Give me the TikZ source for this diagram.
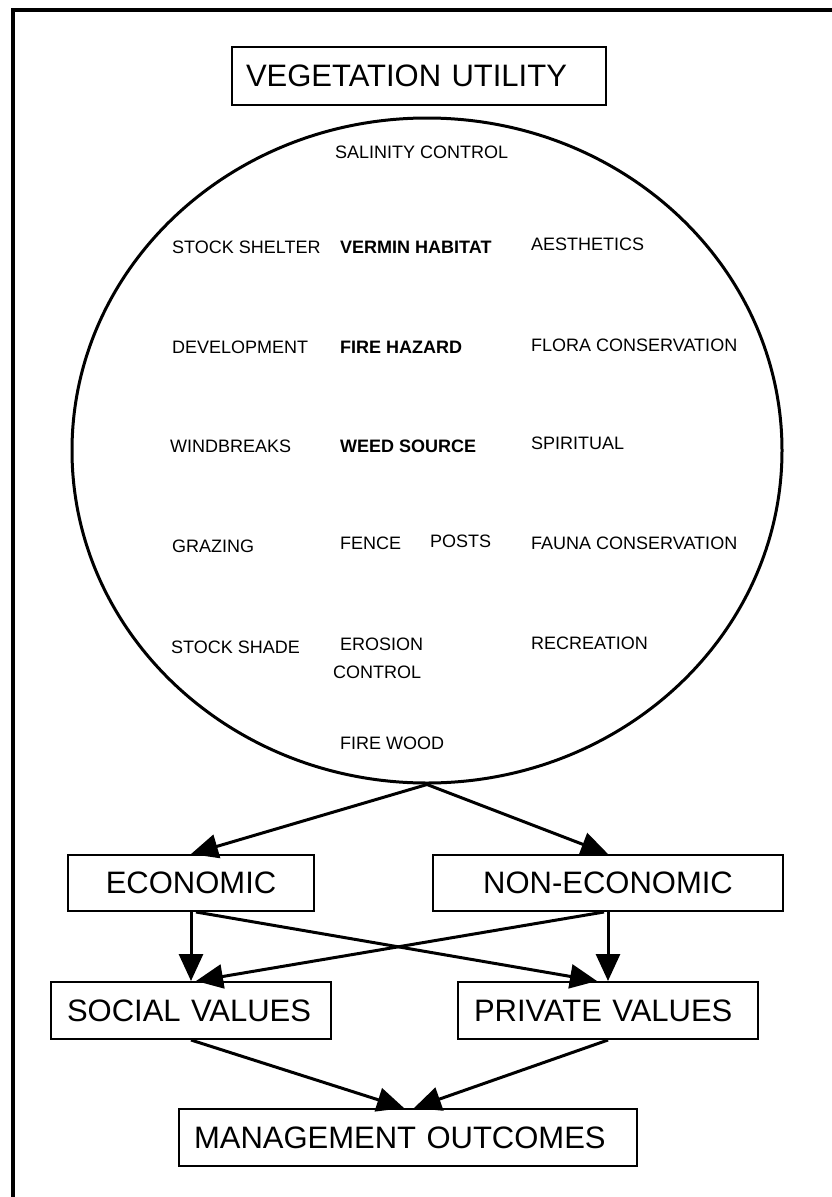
\documentclass[tikz,border=0pt]{standalone}
\usepackage{fontspec}
\setmainfont{Liberation Sans}
\usetikzlibrary{shapes.geometric,arrows.meta}
\tikzset{
  lbl/.style={anchor=base west, inner sep=0pt, font=\fontsize{18}{21}\selectfont},
  blbl/.style={anchor=base west, inner sep=0pt, font=\fontsize{18}{21}\selectfont\bfseries},
  bigbox/.style={draw, line width=2pt, rectangle, anchor=north west, inner ysep=0pt,
    font=\fontsize{31}{36}\selectfont},
  arr/.style={line width=3pt, -{Triangle[length=27pt,width=24pt]}},
}
\begin{document}
\begin{tikzpicture}[x=1pt,y=-1pt]
\useasboundingbox (0,0) rectangle (831,1197);
% frame
\draw[line width=4.5pt] (13,1200) -- (13,9.8) -- (834,9.8);
% title box
\node[bigbox, minimum height=58pt, text width=346pt, inner xsep=14pt, align=left] (veg) at (231,46) {VEGETATION UTILITY};
% ellipse
\node[ellipse, draw, line width=3pt, minimum width=710pt, minimum height=665pt, inner sep=0pt] (vu) at (427,450.5) {};
% ellipse texts
\node[lbl] (t1) at (335,158.5) {SALINITY CONTROL};
\node[lbl] (t2) at (172,253) {STOCK SHELTER};
\node[blbl] (t3) at (340,253) {VERMIN HABITAT};
\node[lbl] (t4) at (531,250) {AESTHETICS};
\node[lbl] (t5) at (172,353) {DEVELOPMENT};
\node[blbl] (t6) at (340,353) {FIRE HAZARD};
\node[lbl] (t7) at (531,351) {FLORA CONSERVATION};
\node[lbl] (t8) at (170,452.5) {WINDBREAKS};
\node[blbl] (t9) at (340,452.5) {WEED SOURCE};
\node[lbl] (t10) at (531,449) {SPIRITUAL};
\node[lbl] (t11) at (172,552) {GRAZING};
\node[lbl] (t12) at (340,549) {FENCE};
\node[lbl] (t13) at (430,547) {POSTS};
\node[lbl] (t14) at (531,549) {FAUNA CONSERVATION};
\node[lbl] (t15) at (171,653) {STOCK SHADE};
\node[lbl] (t16) at (340,650) {EROSION};
\node[lbl] (t17) at (333,678) {CONTROL};
\node[lbl] (t18) at (531,649) {RECREATION};
\node[lbl] (t19) at (340,749) {FIRE WOOD};
% boxes
\node[bigbox, minimum height=56pt, text width=236pt, inner xsep=5pt, align=center] (eco) at (67,854) {ECONOMIC};
\node[bigbox, minimum height=56pt, text width=340pt, inner xsep=5pt, align=center] (noneco) at (432,854) {NON-ECONOMIC};
\node[bigbox, minimum height=57pt, text width=248pt, inner xsep=16pt, align=left] (social) at (50,981) {SOCIAL VALUES};
\node[bigbox, minimum height=57pt, text width=268pt, inner xsep=16pt, align=left] (private) at (457,981) {PRIVATE VALUES};
\node[bigbox, minimum height=57pt, text width=428pt, inner xsep=15pt, align=left] (mgmt) at (178,1108) {MANAGEMENT OUTCOMES};
% arrows
\draw[arr] (vu.south) -- (eco.north);
\draw[arr] (vu.south) -- (noneco.north);
\draw[arr] (eco.south) -- (social.north);
\draw[arr] (noneco.south) -- (private.north);
\draw[arr] ([xshift=5pt]eco.south) -- ([xshift=-11pt]private.north);
\draw[arr] ([xshift=-4pt]noneco.south) -- ([xshift=5pt]social.north);
\draw[arr] (social.south) -- ([xshift=-4pt]mgmt.north);
\draw[arr] (private.south) -- ([xshift=6pt]mgmt.north);
\end{tikzpicture}
\end{document}
